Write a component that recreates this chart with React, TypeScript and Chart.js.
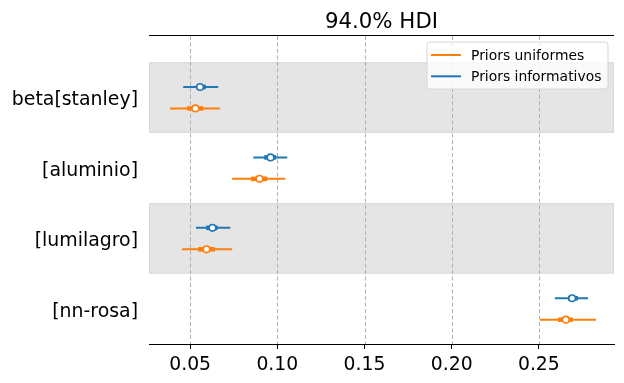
import React, { useEffect, useRef } from "react";
import { Chart, registerables } from "chart.js";

Chart.register(...registerables);

const TITLE = "94.0% HDI";
const ROWS = ["beta[stanley]", "[aluminio]", "[lumilagro]", "[nn-rosa]"];
const ROW_CENTERS = [3.5, 2.5, 1.5, 0.5];
const SHADED_ROWS = [0, 2];
const X_TICKS = [0.05, 0.1, 0.15, 0.2, 0.25];
const X_MIN = 0.0264;
const X_MAX = 0.2931;
const Y_MAX = 4.374;

// Priors uniformes (orange)
const U_LOW = [0.0385, 0.0741, 0.0454, 0.2506];
const U_HIGH = [0.0672, 0.1046, 0.0741, 0.2828];
const U_Q1 = [0.0483, 0.0849, 0.0546, 0.261];
const U_Q3 = [0.0575, 0.0943, 0.0642, 0.2695];
const U_MED = [0.053, 0.0898, 0.0594, 0.2655];

// Priors informativos (blue)
const I_LOW = [0.046, 0.0862, 0.0534, 0.2592];
const I_HIGH = [0.0661, 0.1057, 0.073, 0.2782];
const I_Q1 = [0.0536, 0.0925, 0.0592, 0.2667];
const I_Q3 = [0.059, 0.0993, 0.0657, 0.2724];
const I_MED = [0.0557, 0.0961, 0.0628, 0.2691];

const MODELS = [
  { name: "Priors uniformes", color: "#ff7f0e", offset: -0.155, low: U_LOW, high: U_HIGH, q1: U_Q1, q3: U_Q3, med: U_MED },
  { name: "Priors informativos", color: "#1f77b4", offset: 0.15, low: I_LOW, high: I_HIGH, q1: I_Q1, q3: I_Q3, med: I_MED },
];

const FONT = "'DejaVu Sans', 'Liberation Sans', sans-serif";

export default function App() {
  const ref = useRef<HTMLCanvasElement | null>(null);

  useEffect(() => {
    if (!ref.current) return;
    const datasets: any[] = [];
    MODELS.forEach((m) => {
      ROWS.forEach((_, i) => {
        const y = ROW_CENTERS[i] + m.offset;
        datasets.push({
          type: "scatter",
          data: [{ x: m.med[i], y }],
          pointRadius: 3.3,
          pointHoverRadius: 3.3,
          pointBackgroundColor: "#ffffff",
          pointBorderColor: m.color,
          pointBorderWidth: 1.6,
          order: 0,
        });
        datasets.push({
          type: "scatter",
          showLine: true,
          data: [{ x: m.q1[i], y }, { x: m.q3[i], y }],
          borderColor: m.color,
          borderWidth: 4.6,
          borderCapStyle: "butt",
          pointRadius: 0,
          order: 1,
        });
        datasets.push({
          type: "scatter",
          showLine: true,
          data: [{ x: m.low[i], y }, { x: m.high[i], y }],
          borderColor: m.color,
          borderWidth: 2,
          borderCapStyle: "butt",
          pointRadius: 0,
          order: 2,
        });
      });
    });

    const decor = {
      id: "decor",
      beforeDatasetsDraw(chart: any) {
        const { ctx, chartArea, scales } = chart;
        const ys = scales.y;
        const xs = scales.x;
        ctx.save();
        // bands
        SHADED_ROWS.forEach((r) => {
          const top = ys.getPixelForValue(ROW_CENTERS[r] + 0.5);
          const bot = ys.getPixelForValue(ROW_CENTERS[r] - 0.5);
          ctx.fillStyle = "#e5e5e5";
          ctx.fillRect(chartArea.left, top, chartArea.right - chartArea.left, bot - top);
          ctx.strokeStyle = "#d9d9d9";
          ctx.lineWidth = 1;
          ctx.strokeRect(chartArea.left + 0.5, top + 0.5, chartArea.right - chartArea.left - 1, bot - top - 1);
        });
        // grid
        ctx.strokeStyle = "#b0b0b0";
        ctx.lineWidth = 1;
        ctx.setLineDash([4, 2.5]);
        X_TICKS.forEach((v) => {
          const px = Math.round(xs.getPixelForValue(v)) + 0.5;
          ctx.beginPath();
          ctx.moveTo(px, chartArea.top);
          ctx.lineTo(px, chartArea.bottom);
          ctx.stroke();
        });
        ctx.setLineDash([]);
        ctx.restore();
      },
      afterDraw(chart: any) {
        const { ctx, chartArea } = chart;
        ctx.save();
        // top spine
        ctx.strokeStyle = "#000";
        ctx.lineWidth = 1;
        ctx.beginPath();
        ctx.moveTo(chartArea.left, Math.round(chartArea.top) - 0.5);
        ctx.lineTo(chartArea.right, Math.round(chartArea.top) - 0.5);
        ctx.stroke();
        // title
        ctx.fillStyle = "#000";
        ctx.font = `21.3px ${FONT}`;
        ctx.textAlign = "center";
        ctx.textBaseline = "alphabetic";
        ctx.fillText(TITLE, (chartArea.left + chartArea.right) / 2, 28);
        // legend
        const lw = 181, lh = 47;
        const lx = chartArea.right - 6 - lw;
        const ly = chartArea.top + 6;
        ctx.beginPath();
        const r = 3;
        ctx.moveTo(lx + r, ly);
        ctx.lineTo(lx + lw - r, ly);
        ctx.quadraticCurveTo(lx + lw, ly, lx + lw, ly + r);
        ctx.lineTo(lx + lw, ly + lh - r);
        ctx.quadraticCurveTo(lx + lw, ly + lh, lx + lw - r, ly + lh);
        ctx.lineTo(lx + r, ly + lh);
        ctx.quadraticCurveTo(lx, ly + lh, lx, ly + lh - r);
        ctx.lineTo(lx, ly + r);
        ctx.quadraticCurveTo(lx, ly, lx + r, ly);
        ctx.closePath();
        ctx.fillStyle = "rgba(255,255,255,0.8)";
        ctx.fill();
        ctx.strokeStyle = "#d6d6d6";
        ctx.lineWidth = 1;
        ctx.stroke();
        ctx.font = `13.9px ${FONT}`;
        ctx.textAlign = "left";
        ctx.textBaseline = "middle";
        MODELS.forEach((m, i) => {
          const yy = ly + 13 + i * 21.3;
          ctx.strokeStyle = m.color;
          ctx.lineWidth = 2;
          ctx.beginPath();
          ctx.moveTo(lx + 4, yy);
          ctx.lineTo(lx + 34, yy);
          ctx.stroke();
          ctx.fillStyle = "#000";
          ctx.fillText(m.name, lx + 44, yy + 1);
        });
        ctx.restore();
      },
    };

    const chart = new Chart(ref.current, {
      type: "scatter",
      data: { datasets },
      options: {
        responsive: false,
        animation: false,
        events: [],
        layout: { padding: { top: 36, right: 10, bottom: 0, left: 0 } },
        plugins: { legend: { display: false }, tooltip: { enabled: false }, title: { display: false } },
        scales: {
          x: {
            type: "linear",
            min: X_MIN,
            max: X_MAX,
            afterBuildTicks: (s: any) => {
              s.ticks = X_TICKS.map((v) => ({ value: v }));
            },
            afterFit: (s: any) => {
              s.height = 39;
            },
            ticks: {
              color: "#000",
              font: { size: 18.8, family: FONT },
              padding: 5,
              maxRotation: 0,
              callback: (v: any) => Number(v).toFixed(2),
            },
            grid: { display: true, drawOnChartArea: false, drawTicks: true, tickLength: 5, tickColor: "#000", tickWidth: 1 },
            border: { display: true, color: "#000", width: 1 },
          },
          y: {
            type: "linear",
            min: 0,
            max: Y_MAX,
            afterBuildTicks: (s: any) => {
              s.ticks = ROW_CENTERS.map((v) => ({ value: v }));
            },
            afterFit: (s: any) => {
              s.width = 149;
            },
            ticks: {
              color: "#000",
              font: { size: 18.9, family: FONT },
              padding: 11,
              labelOffset: 3,
              callback: (v: any) => {
                const idx = ROW_CENTERS.indexOf(Number(v));
                return idx >= 0 ? ROWS[idx] : "";
              },
            },
            grid: { display: false, drawTicks: false },
            border: { display: false },
          },
        },
      },
      plugins: [decor],
    } as any);
    return () => chart.destroy();
  }, []);

  return (
    <div style={{ position: "absolute", left: 0, top: 0, width: 624, height: 383, background: "#fff" }}>
      <canvas ref={ref} width={624} height={383} />
    </div>
  );
}
